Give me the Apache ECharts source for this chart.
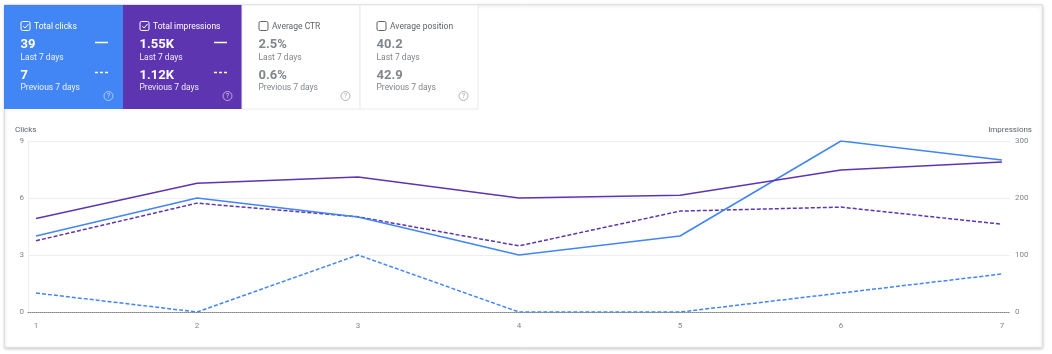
<!DOCTYPE html>
<html>
<head>
<meta charset="utf-8">
<script src="https://cdn.jsdelivr.net/npm/echarts@6/dist/echarts.min.js"></script>
<style>
html,body{margin:0;padding:0;background:#ffffff;}
#chart{width:1052px;height:354px;}
</style>
</head>
<body>
<div id="chart"></div>
<script>
// ---- data ----
const categories = [1, 2, 3, 4, 5, 6, 7];
const clicksLast7 = [4, 6, 5, 3, 4, 9, 8];
const clicksPrev7 = [1, 0, 3, 0, 0, 1, 2];
const impressionsLast7 = [164, 226, 237, 200, 205, 249, 263];
const impressionsPrev7 = [125, 191, 167, 116, 177, 184, 154];
const cardTitles = ['Total clicks', 'Total impressions', 'Average CTR', 'Average position'];
const cardLast = ['39', '1.55K', '2.5%', '40.2'];
const cardPrev = ['7', '1.12K', '0.6%', '42.9'];
const cardChecked = [true, true, false, false];
const periodLabels = ['Last 7 days', 'Previous 7 days'];

const BLUE = '#4285f4';
const PURPLE = '#5e35b1';
const FONT = 'Roboto';

const pairs = (arr) => categories.map((c, i) => [c, arr[i]]);

// ---- cards (graphic) ----
const cardX = [4, 123, 242, 360];
const cardW = [119, 119, 118, 118];
const cardFill = [BLUE, PURPLE, '#ffffff', '#ffffff'];
const graphics = [];
graphics.push({
  type: 'rect', z: -1, silent: true,
  shape: { x: 4.5, y: 4.5, width: 1038, height: 343 },
  style: { fill: '#ffffff', stroke: '#e0e0e0', lineWidth: 1, shadowBlur: 3, shadowColor: 'rgba(60,64,67,0.25)', shadowOffsetY: 1 }
});
cardTitles.forEach((t, i) => {
  const x0 = cardX[i];
  const sel = cardChecked[i];
  const fg = sel ? '#ffffff' : '#5f6368';
  const sub = sel ? 'rgba(255,255,255,0.9)' : '#80868b';
  const val = sel ? '#ffffff' : '#80868b';
  graphics.push({
    type: 'rect', z: 5, silent: true,
    shape: { x: x0, y: 5, width: cardW[i], height: 104 },
    style: { fill: cardFill[i], stroke: sel ? null : '#e8eaed', lineWidth: 1 }
  });
  const cx = x0 + 16.5;
  graphics.push({
    type: 'rect', z: 6, silent: true,
    shape: { x: cx + 0.5, y: 21.5, width: 9, height: 9, r: 1.5 },
    style: { fill: 'none', stroke: sel ? '#ffffff' : '#5f6368', lineWidth: 1 }
  });
  if (sel) {
    graphics.push({
      type: 'polyline', z: 6, silent: true,
      shape: { points: [[cx + 2.8, cx ? 26.2 : 0], [cx + 4.6, 28], [cx + 8, 24]] },
      style: { fill: 'none', stroke: '#ffffff', lineWidth: 1 }
    });
  }
  graphics.push({
    type: 'text', z: 6, silent: true, x: cx + 13.5, y: 26.5,
    style: { text: t, fill: fg, font: '8.5px ' + FONT, verticalAlign: 'middle' }
  });
  graphics.push({
    type: 'text', z: 6, silent: true, x: cx, y: 45,
    style: { text: cardLast[i], fill: val, font: 'bold 13px ' + FONT, verticalAlign: 'middle' }
  });
  graphics.push({
    type: 'text', z: 6, silent: true, x: cx, y: 58,
    style: { text: periodLabels[0], fill: sub, font: '8.5px ' + FONT, verticalAlign: 'middle' }
  });
  graphics.push({
    type: 'text', z: 6, silent: true, x: cx, y: 75.5,
    style: { text: cardPrev[i], fill: val, font: 'bold 13px ' + FONT, verticalAlign: 'middle' }
  });
  graphics.push({
    type: 'text', z: 6, silent: true, x: cx, y: 88,
    style: { text: periodLabels[1], fill: sub, font: '8.5px ' + FONT, verticalAlign: 'middle' }
  });
  if (sel) {
    graphics.push({
      type: 'line', z: 6, silent: true,
      shape: { x1: x0 + 91, y1: 42.5, x2: x0 + 104, y2: 42.5 },
      style: { stroke: '#ffffff', lineWidth: 1.5 }
    });
    graphics.push({
      type: 'line', z: 6, silent: true,
      shape: { x1: x0 + 91, y1: 72.5, x2: x0 + 104, y2: 72.5 },
      style: { stroke: '#ffffff', lineWidth: 1.5, lineDash: [3, 2] }
    });
  }
  const qx = x0 + cardW[i] - 14.5;
  graphics.push({
    type: 'circle', z: 6, silent: true,
    shape: { cx: qx, cy: 96, r: 4.5 },
    style: { fill: 'none', stroke: sel ? 'rgba(255,255,255,0.7)' : '#9aa0a6', lineWidth: 0.8 }
  });
  graphics.push({
    type: 'text', z: 6, silent: true, x: qx, y: 96.5,
    style: { text: '?', fill: sel ? 'rgba(255,255,255,0.8)' : '#9aa0a6', font: '6.5px ' + FONT, align: 'center', verticalAlign: 'middle' }
  });
});
graphics.push({
  type: 'text', z: 6, silent: true, x: 15, y: 130,
  style: { text: 'Clicks', fill: '#5f6368', font: '8px ' + FONT, verticalAlign: 'middle' }
});
graphics.push({
  type: 'text', z: 6, silent: true, x: 1032, y: 130,
  style: { text: 'Impressions', fill: '#5f6368', font: '8px ' + FONT, align: 'right', verticalAlign: 'middle' }
});

const chart = echarts.init(document.getElementById('chart'), null, { renderer: 'canvas' });
chart.setOption({
  animation: false,
  textStyle: { fontFamily: FONT },
  graphic: graphics,
  grid: { left: 28, right: 42, top: 141, bottom: 42, containLabel: false },
  xAxis: {
    type: 'value', min: 0.95, max: 7.05,
    splitLine: { show: false },
    axisTick: { show: false },
    axisLine: { show: true, lineStyle: { color: '#80868b', width: 1, type: [1, 1] } },
    axisLabel: { customValues: categories, color: '#80868b', fontSize: 8, margin: 10, formatter: (v) => String(v) }
  },
  yAxis: [
    {
      type: 'value', min: 0, max: 9, interval: 3, position: 'left',
      axisLine: { show: true, lineStyle: { color: '#eeeeee' } },
      axisTick: { show: false },
      splitLine: { lineStyle: { color: '#eeeeee' } },
      axisLabel: { color: '#80868b', fontSize: 8, margin: 4 }
    },
    {
      type: 'value', min: 0, max: 300, interval: 100, position: 'right',
      axisLine: { show: false },
      axisTick: { show: false },
      splitLine: { show: false },
      axisLabel: { color: '#80868b', fontSize: 8, margin: 5 }
    }
  ],
  series: [
    { name: 'Clicks (previous 7 days)', type: 'line', yAxisIndex: 0, data: pairs(clicksPrev7), symbol: 'none',
      lineStyle: { color: BLUE, width: 1.5, type: [4, 2] } },
    { name: 'Impressions (previous 7 days)', type: 'line', yAxisIndex: 1, data: pairs(impressionsPrev7), symbol: 'none',
      lineStyle: { color: PURPLE, width: 1.5, type: [4, 2] } },
    { name: 'Clicks (last 7 days)', type: 'line', yAxisIndex: 0, data: pairs(clicksLast7), symbol: 'none',
      lineStyle: { color: BLUE, width: 1.5 } },
    { name: 'Impressions (last 7 days)', type: 'line', yAxisIndex: 1, data: pairs(impressionsLast7), symbol: 'none',
      lineStyle: { color: PURPLE, width: 1.5 } }
  ]
});
</script>
</body>
</html>
